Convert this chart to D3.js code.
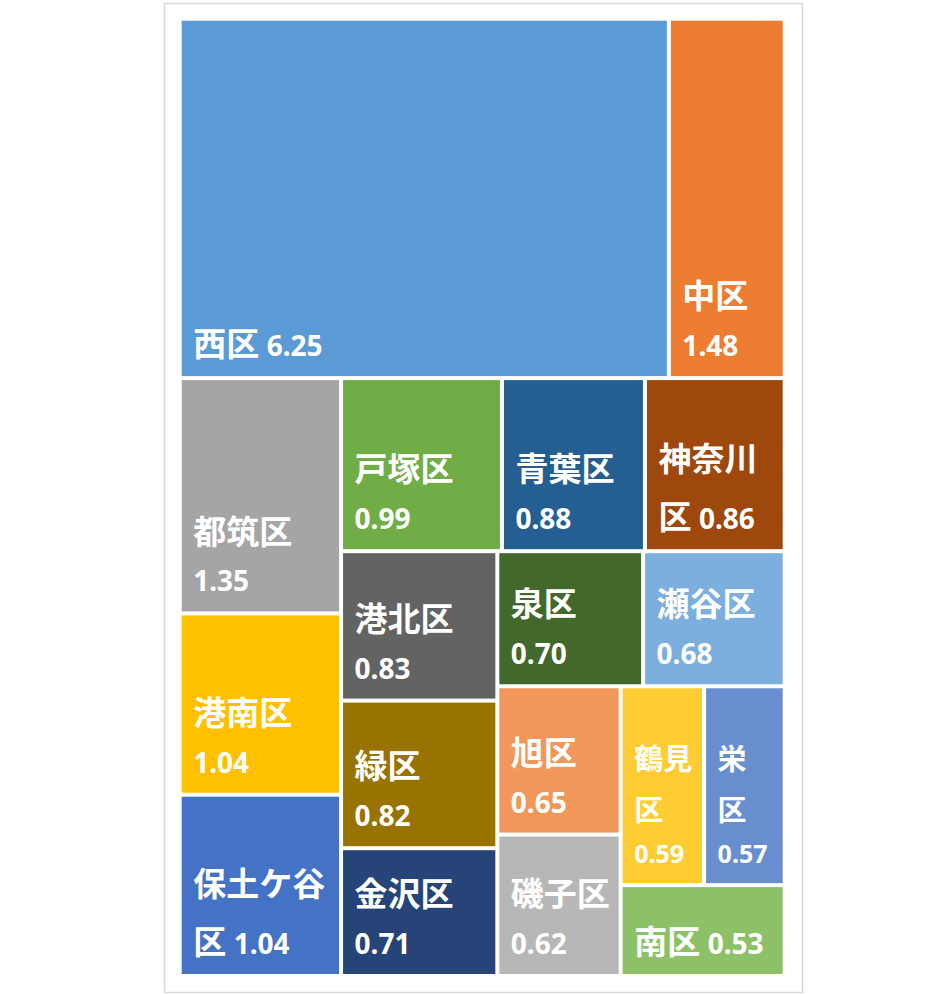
<!DOCTYPE html>
<html>
<head>
<meta charset="utf-8">
<script src="https://cdn.jsdelivr.net/npm/d3@7"></script>
<style>
  body { margin: 0; background: #fff; }
  text { white-space: pre; }
</style>
</head>
<body>
<svg id="display"></svg>
<script>
/*
 *
 *  Data
 *
 */
// wards, in the order excel sorts them (ties keep this order)
var names = ["西区", "中区", "都筑区", "港南区", "保土ケ谷区", "戸塚区", "青葉区", "神奈川区",
             "港北区", "緑区", "金沢区", "泉区", "瀬谷区", "旭区", "磯子区", "鶴見区", "栄区", "南区"];

var values = [6.25, 1.48, 1.35, 1.04, 1.04, 0.99, 0.88, 0.86,
              0.83, 0.82, 0.71, 0.70, 0.68, 0.65, 0.62, 0.59, 0.57, 0.53];

var colors = ["#5b9bd5", "#ed7d31", "#a5a5a5", "#ffc000", "#4472c4", "#70ad47", "#255e91", "#9e480e",
              "#636363", "#997300", "#264478", "#43682b", "#7cafdd", "#f1975a", "#b7b7b7", "#ffcd33", "#698ed0", "#8cc168"];

// how each label wraps in the picture: | is a line break, # is the value
var labelWraps = ["西区 #", "中区|#", "都筑区|#", "港南区|#", "保土ケ谷|区 #", "戸塚区|#", "青葉区|#", "神奈川|区 #",
                  "港北区|#", "緑区|#", "金沢区|#", "泉区|#", "瀬谷区|#", "旭区|#", "磯子区|#", "鶴見|区|#", "栄|区|#", "南区 #"];


/*
 *
 *  Global Variables
 *
 */
var width = 928,
    height = 994;

// tile area (outer edge of the white gaps)
var area = {left: 179.7, top: 18.7, right: 784.7, bottom: 976};
var gap = 2;   // half the white gap between tiles

// excel lays the tiles out on a flatter sheet than the one we see,
// so squarify on a squashed box and stretch back with the y scale
var squash = 0.798;
var layoutW = area.right - area.left,
    layoutH = (area.bottom - area.top) * squash;

var cjkFont = "'Noto Sans CJK JP', 'Noto Sans', sans-serif";
var numFont = "'Noto Sans', 'Open Sans', sans-serif";


var svg = d3.select("#display")
              .attr("width", width)
              .attr("height", height);

// light grey chart frame
svg.append("rect")
    .attr("x", 164.5)
    .attr("y", 3.5)
    .attr("width", 638)
    .attr("height", 989)
    .style("fill", "#fff")
    .style("stroke", "#d9d9d9")
    .style("stroke-width", 1.5);


/*
 *
 *  Layout
 *
 */
var root = d3.hierarchy({children: names.map(function(n, i) {
      return {name: n, value: values[i], color: colors[i], wrap: labelWraps[i]};
    })})
    .sum(function(d) { return d.value; })
    .sort(function(a, b) { return b.value - a.value; });

d3.treemap()
    .tile(d3.treemapSquarify.ratio(1))
    .size([layoutW, layoutH])(root);

var x = d3.scaleLinear().domain([0, layoutW]).range([area.left, area.right]);
var y = d3.scaleLinear().domain([0, layoutH]).range([area.top, area.bottom]);


/*
 *
 *  Tiles
 *
 */
var tiles = svg.selectAll(".tile")
    .data(root.leaves())
    .enter().append("g")
      .classed("tile", true);

tiles.append("rect")
    .attr("x", function(d) { return x(d.x0) + gap; })
    .attr("y", function(d) { return y(d.y0) + gap; })
    .attr("width", function(d) { return x(d.x1) - x(d.x0) - 2*gap; })
    .attr("height", function(d) { return y(d.y1) - y(d.y0) - 2*gap; })
    .style("fill", function(d) { return d.data.color; });


/*
 *
 *  Labels
 *
 */
// narrow tiles get a slightly smaller font, like the picture
function fontSize(d) {
  return (x(d.x1) - x(d.x0)) < 100 ? 29 : 33;
}

tiles.each(function(d) {
  var g = d3.select(this);
  var fs = fontSize(d);
  var nfs = Math.round(fs * 0.85);
  var lines = d.data.wrap.replace("#", d.data.value.toFixed(2)).split("|");

  // bottom aligned: walk up from the last line
  var baseline = y(d.y1) - gap - 20;
  var baselines = [];
  for(var i = lines.length - 1; i >= 0; i--) {
    baselines[i] = baseline;
    if(i > 0) {
      var hasCjk = /[^\d. ]/.test(lines[i]);
      baseline -= hasCjk ? fs * 1.75 : fs * 1.45;
    }
  }

  lines.forEach(function(line, i) {
    var t = g.append("text")
        .attr("x", x(d.x0) + gap + 11.5)
        .attr("y", baselines[i])
        .style("fill", "#fff")
        .style("font-weight", "bold");

    line.match(/[\d.]+|[^\d.]+/g).forEach(function(part) {
      var isNum = /^[\d.]+$/.test(part);
      t.append("tspan")
          .text(part)
          .style("font-family", isNum ? numFont : cjkFont)
          .style("font-size", (isNum ? nfs : fs) + "px");
    });
  });
});
</script>
</body>
</html>
